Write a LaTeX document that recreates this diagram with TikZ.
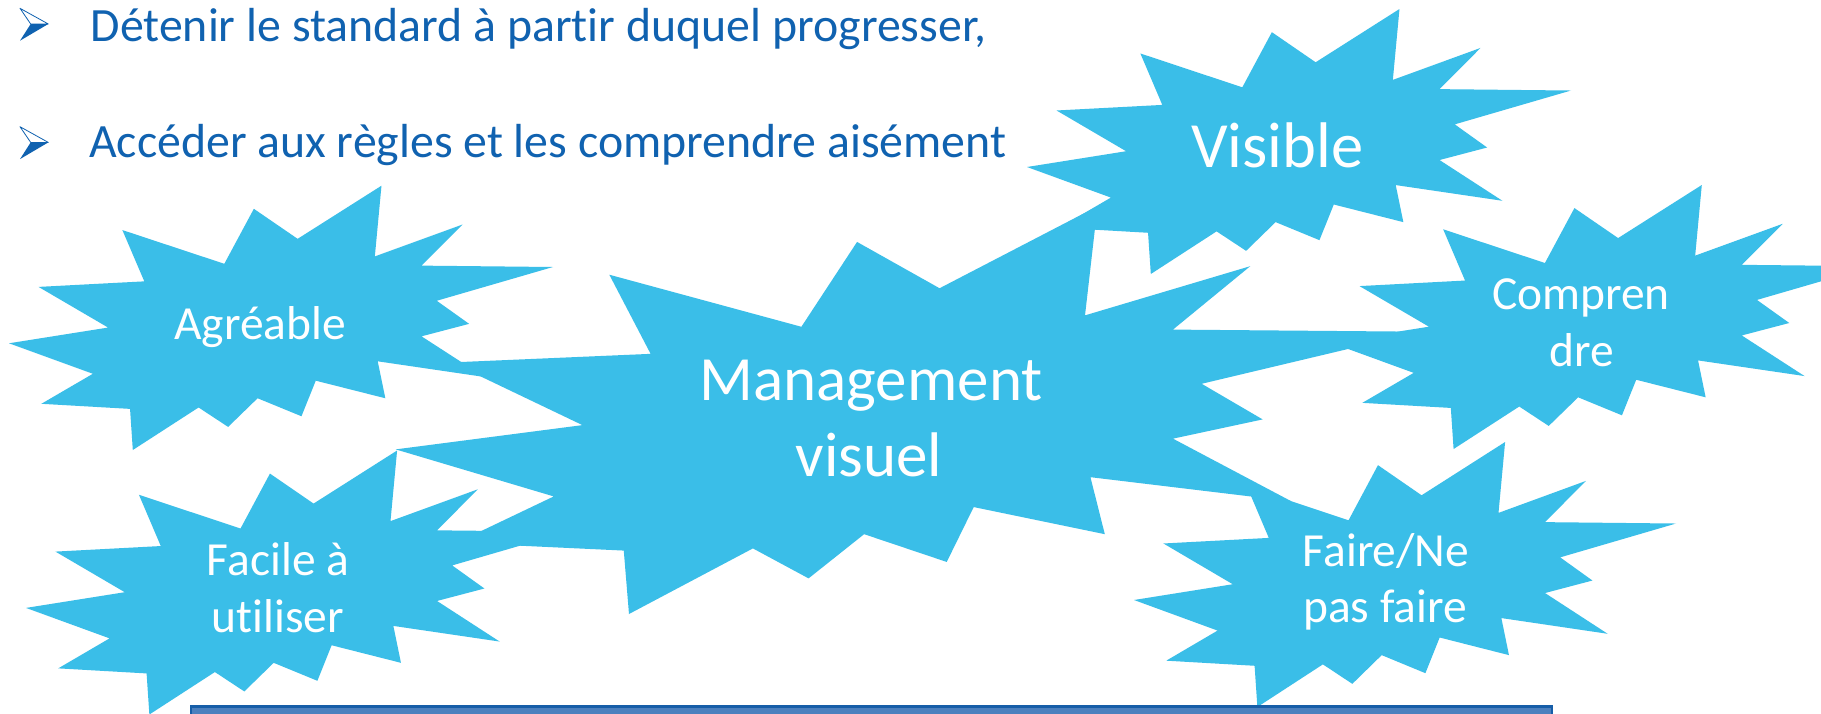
\documentclass[tikz,border=0pt]{standalone}
\usepackage{fontspec}
\setmainfont{Carlito}[Ligatures=NoCommon]
\definecolor{sealblue}{RGB}{58,190,232}
\definecolor{txtblue}{RGB}{16,98,176}
\definecolor{rectfill}{RGB}{76,128,190}
\definecolor{rectline}{RGB}{22,94,168}
\newcommand\sealpath{(0.6847,0) -- (0.6725,0.2675) -- (0.8337,0.1469) -- (0.7583,0.3024) -- (1,0.3076) -- (0.7863,0.4353) -- (0.8458,0.5227) -- (0.7583,0.5699) -- (0.8739,0.7237) -- (0.6778,0.6644) -- (0.6918,0.8042) -- (0.5639,0.7377) -- (0.5376,0.8723) -- (0.4570,0.8042) -- (0.4028,0.9126) -- (0.3485,0.8391) -- (0.2276,1) -- (0.2225,0.8444) -- (0.0595,0.8252) -- (0.1542,0.7116) -- (0,0.5962) -- (0.1822,0.5367) -- (0.0543,0.3829) -- (0.2487,0.3619) -- (0.2084,0.1678) -- (0.3958,0.2955) -- (0.4501,0.0874) -- (0.5306,0.2010) -- cycle}
\newcommand\sealshape[4]{\begin{scope}[shift={(#1,#2)},xscale=#3,yscale=#4]\fill[sealfill] \sealpath;\end{scope}}
\tikzset{
  sealfill/.style={fill=sealblue},
  lab/.style={text=white, inner sep=0pt, anchor=base},
  biglab/.style={lab, font=\fontsize{63}{76}\selectfont},
  vislab/.style={lab, font=\fontsize{64.5}{76}\selectfont},
  midlab/.style={lab, font=\fontsize{47.5}{57}\selectfont},
  bul/.style={text=txtblue, inner sep=0pt, anchor=base west, font=\fontsize{47.8}{57}\selectfont},
  bularrow/.style={draw=txtblue, line width=0.8pt, line join=round},
}
\begin{document}
\begin{tikzpicture}[x=1pt,y=-1pt]
\clip (0,0) rectangle (1821,713);
\fill[white] (0,0) rectangle (1821,713);
% explosion shapes
\sealshape{9}{185.7}{544}{264.3}
\sealshape{26}{450.5}{542}{264}
\sealshape{395.7}{206.3}{1025}{407.7}
\sealshape{1027}{9}{544}{265}
\sealshape{1330}{185}{543}{264}
\sealshape{1134}{442}{542}{265}
% labels
\node[biglab] (mv1) at (871,400) {Management};
\node[biglab] (mv2) at (869,476.7) {visuel};
\node[vislab] (vis) at (1277.5,167.3) {Visible};
\node[midlab] (agr) at (260,339.3) {Agréable};
\node[midlab] (fac1) at (278,575) {Facile à};
\node[midlab] (fac2) at (278,632.7) {utiliser};
\node[midlab] (comp1) at (1581,309) {Compren};
\node[midlab] (comp2) at (1582,366) {dre};
\node[midlab] (faire1) at (1386,566) {Faire/Ne};
\node[midlab] (faire2) at (1385,622) {pas faire};
% bullets
\foreach \dy in {0,118.4}{
  \draw[bularrow] (20,8.3+\dy) -- (48.3,24+\dy) -- (30.7,24+\dy) -- cycle;
  \fill[txtblue] (30.7,24+\dy) -- (48.3,24+\dy) -- (20,40.7+\dy) -- cycle;
}
\node[bul] (b1) at (90.5,41.5) {Détenir le standard à partir duquel progresser,};
\node[bul] (b2) at (89,157) {Accéder aux règles et les comprendre aisément};
% bottom box
\draw[draw=rectline, line width=2.5pt, fill=rectfill] (191,706.5) rectangle (1552,760);
\end{tikzpicture}
\end{document}
